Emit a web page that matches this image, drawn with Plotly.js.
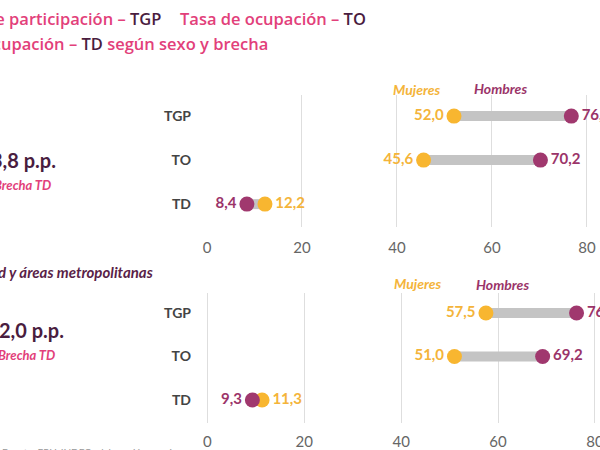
<!DOCTYPE html>
<html><head><meta charset="utf-8">
<script src="https://cdn.plot.ly/plotly-3.0.1.min.js"></script>
<style>html,body{margin:0;padding:0;background:#fff}#chart{width:600px;height:450px}</style>
</head><body><div id="chart"></div>
<script>
// ---- data ----
const categories = ['TGP', 'TO', 'TD'];
const mujeresTotal = [52.0, 45.6, 12.2];
const hombresTotal = [76.7, 70.2, 8.4];
const mujeresCiudades = [57.5, 51.0, 11.3];
const hombresCiudades = [76.2, 69.2, 9.3];
const xTicks = [0, 20, 40, 60, 80];
const brechaTotal = '3,8 p.p.';
const brechaCiudades = '2,0 p.p.';
const titleLine1a = 'Tasa general de participación – <span style="color:#4A1D3F">TGP</span>';
const titleLine1b = 'Tasa de ocupación – <span style="color:#4A1D3F">TO</span>';
const titleLine2 = 'Tasa de desocupación – <span style="color:#4A1D3F">TD</span> según sexo y brecha';

// ---- style ----
const FONT = 'Lato, "Open Sans", sans-serif';
const TFONT = '"Open Sans", Lato, sans-serif';
const PINK = '#E2407A';
const DARK = '#4A1D3F';
const YEL = '#F8B630';
const YELT = '#F4B43A';
const PUR = '#A0386E';
const PURT = '#9B3469';
const GRAY = '#C4C4C4';
const W = 600, H = 450;
const px = v => v / W;
const py = v => 1 - v / H;
const fmt = v => v.toFixed(1).replace('.', ',');

function panel(m, h, xa, ya) {
  const cx = [], cy = [];
  categories.forEach((c, i) => { cx.push(m[i], h[i], null); cy.push(c, c, null); });
  return [
    {type: 'scatter', mode: 'lines', x: cx, y: cy, xaxis: xa, yaxis: ya,
     line: {color: GRAY, width: 10}, hoverinfo: 'skip', showlegend: false},
    {type: 'scatter', mode: 'markers+text', x: m, y: categories, xaxis: xa, yaxis: ya,
     text: m.map(fmt), textposition: m.map((v, i) => v < h[i] ? 'middle left' : 'middle right'),
     textfont: {family: FONT, size: 15, color: YELT, weight: 'bold'},
     marker: {size: 15, color: YEL}, cliponaxis: false, showlegend: false, name: 'Mujeres'},
    {type: 'scatter', mode: 'markers+text', x: h, y: categories, xaxis: xa, yaxis: ya,
     text: h.map(fmt), textposition: h.map((v, i) => v > m[i] ? 'middle right' : 'middle left'),
     textfont: {family: FONT, size: 15, color: PURT, weight: 'bold'},
     marker: {size: 15, color: PUR}, cliponaxis: false, showlegend: false, name: 'Hombres'}
  ];
}

const data = [
  ...panel(mujeresTotal, hombresTotal, 'x', 'y'),
  ...panel(mujeresCiudades, hombresCiudades, 'x2', 'y2')
];

const xCommon = {
  tickvals: xTicks, ticktext: xTicks.map(String), showgrid: true, gridcolor: '#DEDEDE', gridwidth: 1,
  zeroline: false, showline: false, ticks: '', ticklabeloverflow: 'allow',
  tickfont: {family: FONT, size: 15, color: '#666'}
};
const yCommon = {
  type: 'category', categoryorder: 'array', categoryarray: ['TD', 'TO', 'TGP'],
  showgrid: false, zeroline: false, showline: false, ticks: '', ticklabelstandoff: 14,
  tickfont: {family: FONT, size: 14, color: '#444', weight: 'bold'}
};

function ann(text, x, y, xanchor, size, color, extra) {
  return Object.assign({text, x: px(x), y: py(y), xref: 'paper', yref: 'paper', showarrow: false,
    xanchor, yanchor: 'middle', font: {family: FONT, size, color}}, extra || {});
}
const tfont = {family: TFONT, size: 16.5, color: PINK, weight: 600};

const layout = {
  width: W, height: H, margin: {l: 0, r: 0, t: 0, b: 0},
  paper_bgcolor: '#fff', plot_bgcolor: '#fff', showlegend: false,
  font: {family: FONT},
  xaxis: Object.assign({}, xCommon, {domain: [px(206), 1], range: [-0.21, 82.74], anchor: 'y', ticklabelstandoff: 10}),
  yaxis: Object.assign({}, yCommon, {domain: [py(227), py(95)], range: [-0.52, 2.48], anchor: 'x'}),
  xaxis2: Object.assign({}, xCommon, {domain: [px(206), 1], range: [-0.27, 81.04], anchor: 'y2', ticklabelstandoff: 8}),
  yaxis2: Object.assign({}, yCommon, {domain: [py(423), py(293)], range: [-0.53, 2.46], anchor: 'x2'}),
  annotations: [
    ann(titleLine1a, 163, 18, 'right', 16.5, PINK, {font: tfont}),
    ann(titleLine1b, 178, 18, 'left', 16.5, PINK, {font: tfont}),
    ann(titleLine2, 270, 44, 'right', 16.5, PINK, {font: tfont}),
    ann('<b>' + brechaTotal + '</b>', 58, 160, 'right', 20, DARK),
    ann('<b><i>Brecha TD</i></b>', 53, 185, 'right', 13, PINK),
    ann('<b><i>Ciudad y áreas metropolitanas</i></b>', 155, 272, 'right', 15, '#5A1F48'),
    ann('<b>' + brechaCiudades + '</b>', 66, 330, 'right', 20, DARK),
    ann('<b><i>Brecha TD</i></b>', 57, 355, 'right', 13, PINK),
    ann('<b><i>Mujeres</i></b>', 417, 89, 'center', 14, YELT),
    ann('<b><i>Hombres</i></b>', 500, 88, 'center', 14, PURT),
    ann('<b><i>Mujeres</i></b>', 418, 283, 'center', 14, YELT),
    ann('<b><i>Hombres</i></b>', 502, 284, 'center', 14, PURT),
    ann('Fuente: EPH-INDEC, elaboración propia', 0, 452, 'left', 10, '#999')
  ]
};

Plotly.newPlot('chart', data, layout, {displayModeBar: false, staticPlot: true});
</script>
</body></html>
